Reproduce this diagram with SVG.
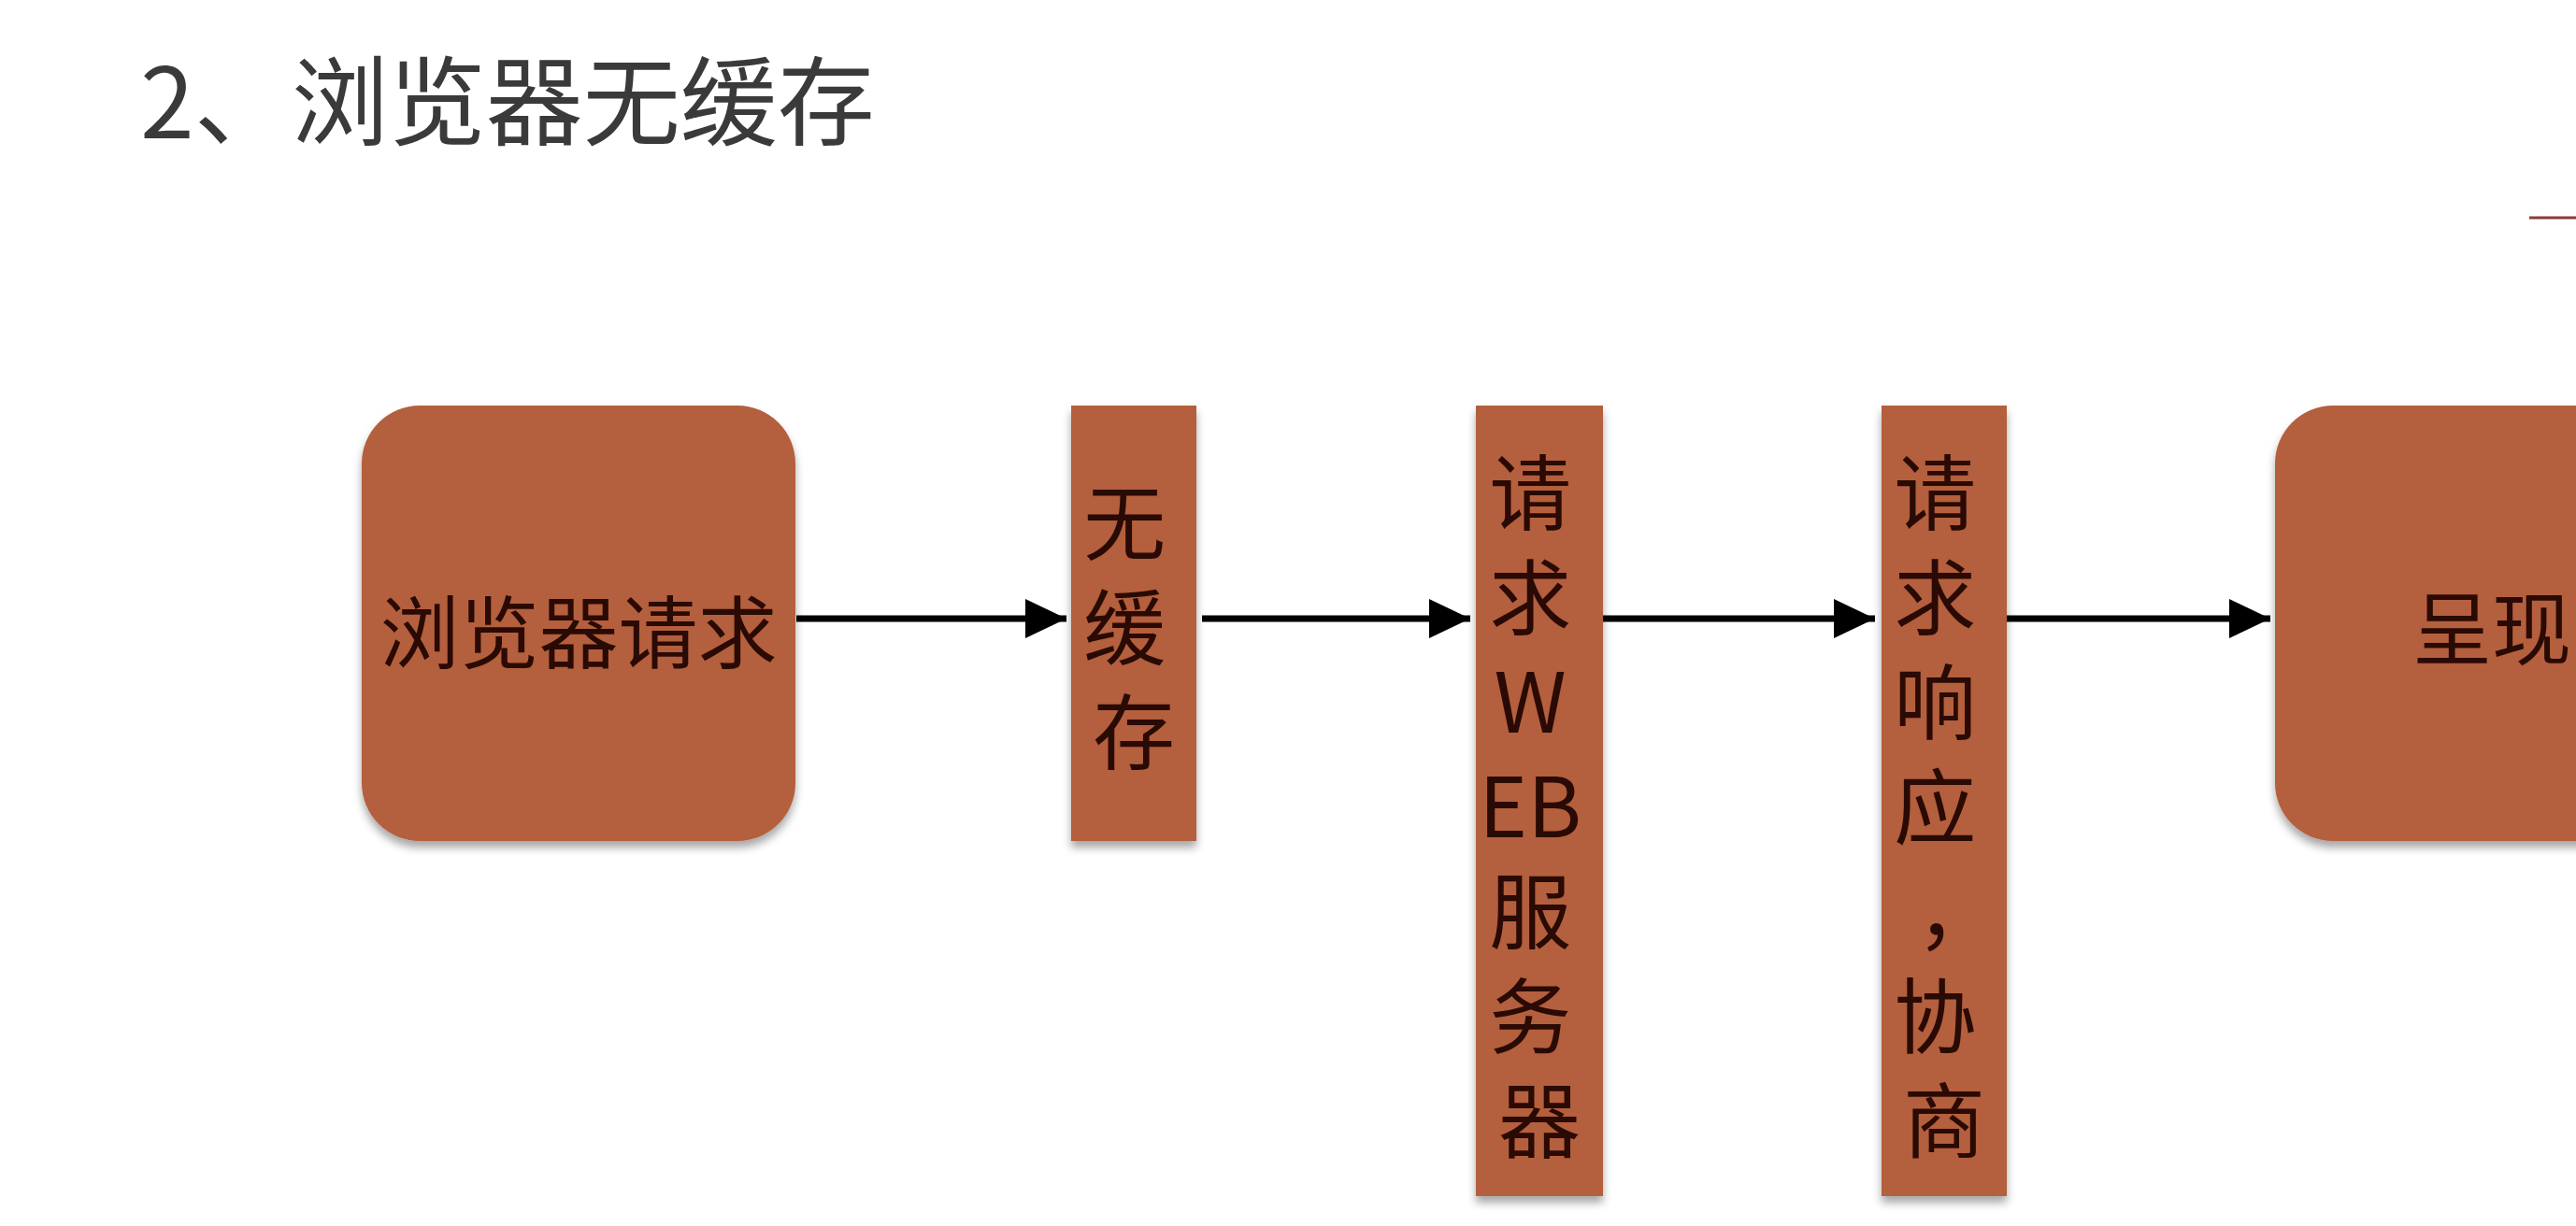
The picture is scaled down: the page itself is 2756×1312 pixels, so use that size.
<svg xmlns="http://www.w3.org/2000/svg" width="2756" height="1312" viewBox="0 0 2756 1312">
<defs>
<filter id="sh" x="-20%" y="-20%" width="140%" height="140%">
<feDropShadow dx="0" dy="7" stdDeviation="5" flood-color="#000" flood-opacity="0.35"/>
</filter>
<marker id="ah" markerUnits="userSpaceOnUse" markerWidth="44" markerHeight="42" refX="44" refY="21" orient="auto">
<path d="M0,0 L44,21 L0,42 Z" fill="#000"/>
</marker>
<style>
.box{fill:#B45E3D;filter:url(#sh);}
.t{font-family:"Noto Sans CJK SC","Noto Sans",sans-serif;fill:#2a0a04;text-anchor:middle;}
.v{font-size:88px;}
.h{font-size:85px;}
.title{font-family:"Noto Sans CJK SC","Noto Sans",sans-serif;font-size:104px;font-weight:400;fill:#3a3a3a;}
.conn{stroke:#000;stroke-width:7;fill:none;marker-end:url(#ah);}
</style>
</defs>
<rect width="2756" height="1312" fill="#ffffff"/>
<text class="title" x="150" y="148">2、浏览器无缓存</text>
<line x1="2706" y1="233" x2="2756" y2="233" stroke="#8c3b3b" stroke-width="3"/>

<g id="connectors">
<line class="conn" x1="852" y1="662" x2="1141" y2="662"/>
<line class="conn" x1="1286" y1="662" x2="1573" y2="662"/>
<line class="conn" x1="1714" y1="662" x2="2006" y2="662"/>
<line class="conn" x1="2142" y1="662" x2="2429" y2="662"/>
</g>

<g id="node-browser-request">
<rect class="box" x="387" y="434" width="464" height="466" rx="62" ry="62"/>
<text class="t h" x="619" y="709">浏览器请求</text>
</g>

<g id="node-no-cache">
<rect class="box" x="1146" y="434" width="134" height="466"/>
<text class="t v">
<tspan x="1213" y="592">无</tspan>
<tspan x="1213" y="704">缓</tspan>
<tspan x="1213" y="816">存</tspan>
</text>
</g>

<g id="node-request-web-server">
<rect class="box" x="1579" y="434" width="136" height="846"/>
<text class="t v">
<tspan x="1647" y="560">请</tspan>
<tspan x="1647" y="672">求</tspan>
<tspan x="1647" y="784">W</tspan>
<tspan x="1647" y="896">EB</tspan>
<tspan x="1647" y="1008">服</tspan>
<tspan x="1647" y="1120">务</tspan>
<tspan x="1647" y="1232">器</tspan>
</text>
</g>

<g id="node-response-negotiate">
<rect class="box" x="2013" y="434" width="134" height="846"/>
<text class="t v">
<tspan x="2080" y="560">请</tspan>
<tspan x="2080" y="672">求</tspan>
<tspan x="2080" y="784">响</tspan>
<tspan x="2080" y="896">应</tspan>
<tspan x="2104" y="1008">，</tspan>
<tspan x="2080" y="1120">协</tspan>
<tspan x="2080" y="1232">商</tspan>
</text>
</g>

<g id="node-render">
<rect class="box" x="2434" y="434" width="464" height="466" rx="62" ry="62"/>
<text class="t h" x="2666" y="705">呈现</text>
</g>
</svg>
